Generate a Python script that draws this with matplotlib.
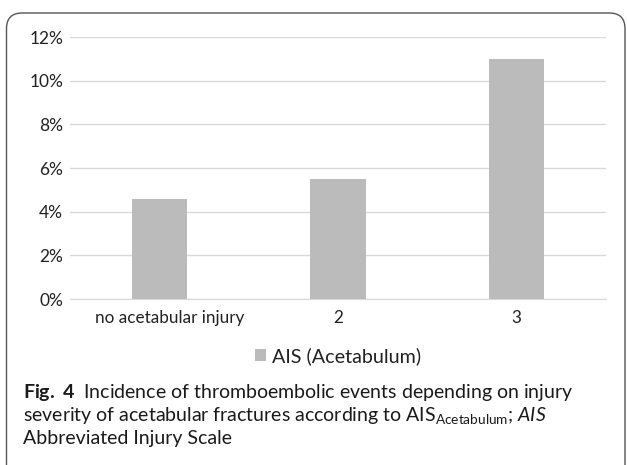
import matplotlib
matplotlib.use("Agg")
import matplotlib.pyplot as plt
import matplotlib.transforms as mtransforms
from matplotlib.patches import FancyBboxPatch
from matplotlib.ticker import FuncFormatter

categories = ["no acetabular injury", "2", "3"]
values = [4.6, 5.5, 11.0]
series_name = "AIS (Acetabulum)"
yticks = [0, 2, 4, 6, 8, 10, 12]

plt.rcParams['font.family'] = ['Lato', 'DejaVu Sans']
plt.rcParams['mathtext.fontset'] = 'custom'
plt.rcParams['mathtext.rm'] = 'Lato'
plt.rcParams['mathtext.it'] = 'Lato:italic'
plt.rcParams['mathtext.bf'] = 'Lato:bold'

W, H = 627, 465
fig = plt.figure(figsize=(W/100, H/100), dpi=100)
fig.patch.set_facecolor('white')

# border box
box = FancyBboxPatch((6.5/W, -20/H), (625-6.5)/W, (452+20)/H,
                     boxstyle="round,pad=0,rounding_size=0.025",
                     transform=fig.transFigure, fill=False,
                     edgecolor='#555555', linewidth=1.0, mutation_aspect=W/H)
fig.patches.append(box)

ax = fig.add_axes([70/W, 1-299/H, (606-70)/W, (299-37)/H])
x = range(len(categories))
ax.bar(x, values, width=0.31, color='#BBBBBB', label=series_name, zorder=3)
ax.set_xlim(-0.5, len(categories)-0.5)
ax.set_ylim(0, 12)
ax.set_yticks(yticks)
ax.yaxis.set_major_formatter(FuncFormatter(lambda v, p: f"{v:.0f}%"))
ax.set_xticks(list(x))
ax.set_xticklabels(categories)
ax.grid(axis='y', color='#D9D9D9', linewidth=1.0, zorder=0)
for s in ['top', 'right', 'left']:
    ax.spines[s].set_visible(False)
ax.spines['bottom'].set_color('#D9D9D9')
ax.tick_params(axis='both', length=0, colors='#222222')
ax.tick_params(axis='y', pad=5, labelsize=12.5)
ax.tick_params(axis='x', pad=8, labelsize=12.3)
# first category label sits slightly right of its bar in the reference
lbl0 = ax.get_xticklabels()[0]
lbl0.set_transform(lbl0.get_transform() + mtransforms.ScaledTranslation(10/100, 0, fig.dpi_scale_trans))

leg = fig.legend(loc='center', bbox_to_anchor=(338/W, 1-356/H), frameon=False,
                 fontsize=14.2, handlelength=0.6, handleheight=0.6, handletextpad=0.3)
for t in leg.get_texts():
    t.set_color('#222222')

cap_x = 23/W
fs = 14
fig.text(cap_x, 1-392/H, r"$\mathbf{Fig.\ 4}$  Incidence of thromboembolic events depending on injury",
         fontsize=fs, va='center', ha='left', color='#1a1a1a')
fig.text(cap_x, 1-415/H, r"severity of acetabular fractures according to AIS$_{\mathrm{Acetabulum}}$; $\mathit{AIS}$",
         fontsize=fs, va='center', ha='left', color='#1a1a1a')
fig.text(cap_x, 1-438/H, "Abbreviated Injury Scale",
         fontsize=fs, va='center', ha='left', color='#1a1a1a')

fig.savefig("out.png", dpi=100)
